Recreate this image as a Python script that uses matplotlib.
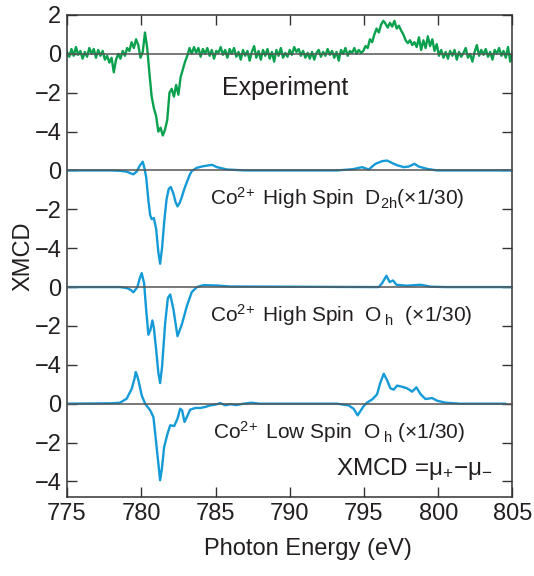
import matplotlib
matplotlib.use("Agg")
import matplotlib.pyplot as plt
import numpy as np

plt.rcParams['font.family'] = ['Liberation Sans', 'DejaVu Sans']
plt.rcParams['mathtext.fontset'] = 'custom'
plt.rcParams['mathtext.rm'] = 'Liberation Sans'
plt.rcParams['mathtext.it'] = 'Liberation Sans:italic'
plt.rcParams['mathtext.bf'] = 'Liberation Sans:bold'

TXT = '#231f20'
GREEN = '#0aa14e'
BLUE = '#149bd7'

# vertical offsets of the four stacked spectra
offsets = [0, -6, -12, -18]

# experiment, 0.15 eV steps from 775 to 805
exp_energy = np.linspace(775, 805, 201)
exp_xmcd = [
    0.1, -0.15, 0.25, -0.1, 0.35, -0.05, 0.15, -0.25, 0.1, -0.15,
    0.3, 0.0, 0.25, -0.2, 0.2, -0.1, 0.15, -0.3, -0.1, -0.45,
    -0.2, -0.95, -0.3, 0.0, -0.25, 0.15, -0.1, 0.3, 0.15, 0.6,
    0.3, 0.75, 0.45, -0.2, 0.1, 1.1, 0.3, -1.0, -2.2, -2.8,
    -3.2, -4.0, -3.8, -4.2, -3.9, -3.4, -2.0, -1.8, -2.2, -1.6,
    -2.1, -1.2, -0.8, -0.4, -0.1, 0.3, 0.0, 0.35, 0.05, 0.3,
    -0.15, 0.25, 0.0, 0.3, -0.1, 0.2, -0.25, 0.15, 0.05, 0.35,
    -0.05, 0.2, -0.2, 0.25, 0.0, 0.3, -0.15, 0.1, -0.3, 0.2,
    -0.1, 0.15, -0.35, 0.1, 0.4, -0.2, 0.15, -0.3, 0.2, -0.1,
    0.25, -0.25, 0.1, -0.4, 0.2, -0.1, 0.3, -0.2, 0.05, -0.15,
    0.2, -0.05, 0.35, 0.1, 0.25, -0.1, 0.15, -0.2, 0.05, -0.25,
    0.1, -0.3, 0.05, 0.2, -0.15, 0.1, -0.1, 0.25, -0.05, 0.15,
    -0.2, 0.1, -0.35, 0.2, 0.0, 0.3, -0.1, 0.15, 0.05, 0.3,
    0.0, 0.2, 0.05, 0.15, 0.4, 0.3, 0.75, 0.6, 1.0, 1.3,
    1.1, 1.5, 1.7, 1.55, 1.35, 1.6, 1.4, 1.7, 1.3, 1.45,
    1.2, 1.0, 0.7, 0.55, 0.7, 0.45, 0.6, 0.35, 0.85, 0.2,
    0.7, 0.3, 0.9, 0.4, 0.75, 0.15, 0.5, -0.1, 0.2, -0.2,
    0.1, -0.25, 0.15, -0.1, 0.2, -0.3, 0.1, -0.15, 0.05, 0.3,
    -0.2, 0.0, -0.4, 0.1, 0.45, -0.1, 0.2, -0.05, 0.25, -0.15,
    0.1, -0.3, 0.2, 0.0, 0.3, -0.1, 0.15, -0.2, 0.35, -0.4,
    0.1,
]

# Co2+ high spin D2h (x1/30)
d2h_energy = [775, 778.0, 778.6, 779.0, 779.47, 779.7, 779.9, 780.1, 780.22, 780.33,
              780.48, 780.6, 780.7, 780.85, 781.0, 781.15, 781.27, 781.4, 781.55, 781.7,
              781.85, 781.99, 782.17, 782.3, 782.44, 782.6, 782.73, 782.9, 783.07, 783.25,
              783.4, 783.75, 784.19, 784.76, 785.1, 785.77, 787.0, 793.18, 794.3, 794.87,
              795.32, 795.77, 796.22, 796.56, 796.9, 797.23, 797.68, 798.0, 798.4, 798.69,
              799.25, 799.93, 801.0, 805.0]
d2h_xmcd = [0, 0, -0.02, -0.06, -0.2, -0.05, 0.25, 0.45, 0.1, -0.34,
            -1.54, -2.3, -2.5, -2.45, -3.0, -4.2, -4.8, -4.0, -2.6, -1.5,
            -0.95, -0.85, -1.2, -1.6, -1.85, -1.65, -1.37, -0.95, -0.6, -0.25,
            -0.03, 0.14, 0.22, 0.29, 0.17, 0.05, 0, 0, 0.07, 0.17,
            0.05, 0.34, 0.48, 0.51, 0.38, 0.27, 0.17, 0.2, 0.34, 0.2,
            0.08, 0, 0, 0]

# Co2+ high spin Oh (x1/30)
ohh_energy = [775, 778.57, 779.02, 779.3, 779.47, 779.74, 779.9, 780.03, 780.19, 780.33,
              780.48, 780.62, 780.75, 780.85, 781.0, 781.15, 781.27, 781.4, 781.61, 781.79,
              781.95, 782.17, 782.44, 782.73, 783.07, 783.4, 783.75, 784.19, 785.1, 786.0,
              795.8, 796.0, 796.22, 796.51, 796.73, 796.96, 797.18, 797.9, 798.8, 799.5,
              800.5, 805.0]
ohh_xmcd = [0, 0, -0.05, -0.15, -0.27, 0, 0.45, 0.72, 0.2, -1.16,
            -2.45, -2.2, -1.72, -2.1, -3.2, -4.4, -4.94, -4.1, -1.85, -0.57,
            -0.38, -1.16, -2.53, -1.93, -0.98, -0.26, 0, 0.1, 0.08, 0.03,
            0, 0, 0.2, 0.58, 0.26, 0.34, 0.12, 0.07, 0.12, 0.02,
            0, 0]

# Co2+ low spin Oh (x1/30)
ls_energy = [775, 778.0, 778.57, 779.02, 779.36, 779.55, 779.63, 779.72, 779.81, 780.03,
             780.26, 780.6, 780.82, 781.0, 781.14, 781.27, 781.39, 781.54, 781.77, 781.95,
             782.22, 782.44, 782.62, 782.75, 782.91, 783.07, 783.29, 783.63, 783.97, 784.3,
             784.64, 784.98, 785.32, 785.65, 786.0, 786.4, 786.9, 787.4, 788.0, 793.18,
             793.97, 794.3, 794.57, 794.76, 794.98, 795.2, 795.55, 795.88, 796.1, 796.33,
             796.56, 796.78, 797.0, 797.23, 797.57, 797.9, 798.24, 798.53, 798.8, 799.14,
             799.59, 799.93, 800.5, 801.5, 804.5]
ls_xmcd = [0, 0.02, 0.05, 0.26, 0.77, 1.3, 1.63, 1.45, 1.2, 0.43,
           0, -0.34, -0.69, -1.97, -3.0, -3.94, -3.34, -2.23, -1.54, -1.11,
           -1.15, -0.77, -0.26, -0.34, -0.94, -0.69, -0.31, -0.22, -0.22, -0.17,
           -0.09, -0.05, 0.03, -0.08, -0.03, -0.07, 0.0, 0.05, 0, 0,
           -0.09, -0.26, -0.6, -0.38, -0.12, 0.05, 0.22, 0.48, 1.08, 1.54,
           1.2, 0.79, 0.72, 0.93, 0.87, 0.79, 0.62, 0.84, 0.5, 0.24,
           0.29, 0.15, 0.05, 0, 0]

ytick_pos = [2, 0, -2, -4, -6, -8, -10, -12, -14, -16, -18, -20, -22]
ytick_lab = ['2', '0', '\u22122', '\u22124', '0', '\u22122', '\u22124',
             '0', '\u22122', '\u22124', '0', '\u22122', '\u22124']

fig = plt.figure(figsize=(5.34, 5.76), dpi=100)
ax = fig.add_axes([0.1255, 0.1372, 0.8342, 0.8368])

for off in offsets:
    ax.axhline(off, color='#555555', lw=1.1, zorder=3)

ax.plot(exp_energy, np.array(exp_xmcd) + offsets[0], color=GREEN, lw=1.7, zorder=2)
ax.plot(d2h_energy, np.array(d2h_xmcd) + offsets[1], color=BLUE, lw=1.7, zorder=2)
ax.plot(ohh_energy, np.array(ohh_xmcd) + offsets[2], color=BLUE, lw=1.7, zorder=2)
ax.plot(ls_energy, np.array(ls_xmcd) + offsets[3], color=BLUE, lw=1.7, zorder=2)

ax.text(785.45, -1.78, 'Experiment', fontsize=18, color=TXT, va='center')
ax.text(784.64, -7.44, 'Co$^{2\\!+}$ High Spin  D$_{\\mathrm{2h}}$(\u00d71/30)',
        fontsize=15, color=TXT, va='center')
ax.text(784.64, -13.42, 'Co$^{2\\!+}$ High Spin  O$_{\\;\\mathrm{h}}$  (\u00d71/30)',
        fontsize=15, color=TXT, va='center')
ax.text(784.85, -19.46, 'Co$^{2\\!+}$ Low Spin  O$_{\\;\\mathrm{h}}$ (\u00d71/30)',
        fontsize=15, color=TXT, va='center')
ax.text(793.14, -21.34, 'XMCD =\u03bc$_{+}$\u2212\u03bc$_{-}$', fontsize=17.5,
        color=TXT, va='center')

ax.set_xlim(775, 805)
ax.set_ylim(-22.8, 2.0)
ax.set_xticks([775, 780, 785, 790, 795, 800, 805])
ax.set_yticks(ytick_pos)
ax.set_yticklabels(ytick_lab)
ax.tick_params(direction='in', length=7, width=1.0, labelsize=17, colors='#333333',
               labelcolor=TXT, top=True, right=True, pad=4)

ax.set_xlabel('Photon Energy (eV)', fontsize=17, color=TXT)
ax.set_ylabel('XMCD', fontsize=17, color=TXT)
ax.xaxis.set_label_coords(0.54, -0.085)
ax.yaxis.set_label_coords(-0.073, 0.5)

for s in ax.spines.values():
    s.set_color('#333333')
    s.set_linewidth(1.1)

fig.savefig('out.png', dpi=100)
